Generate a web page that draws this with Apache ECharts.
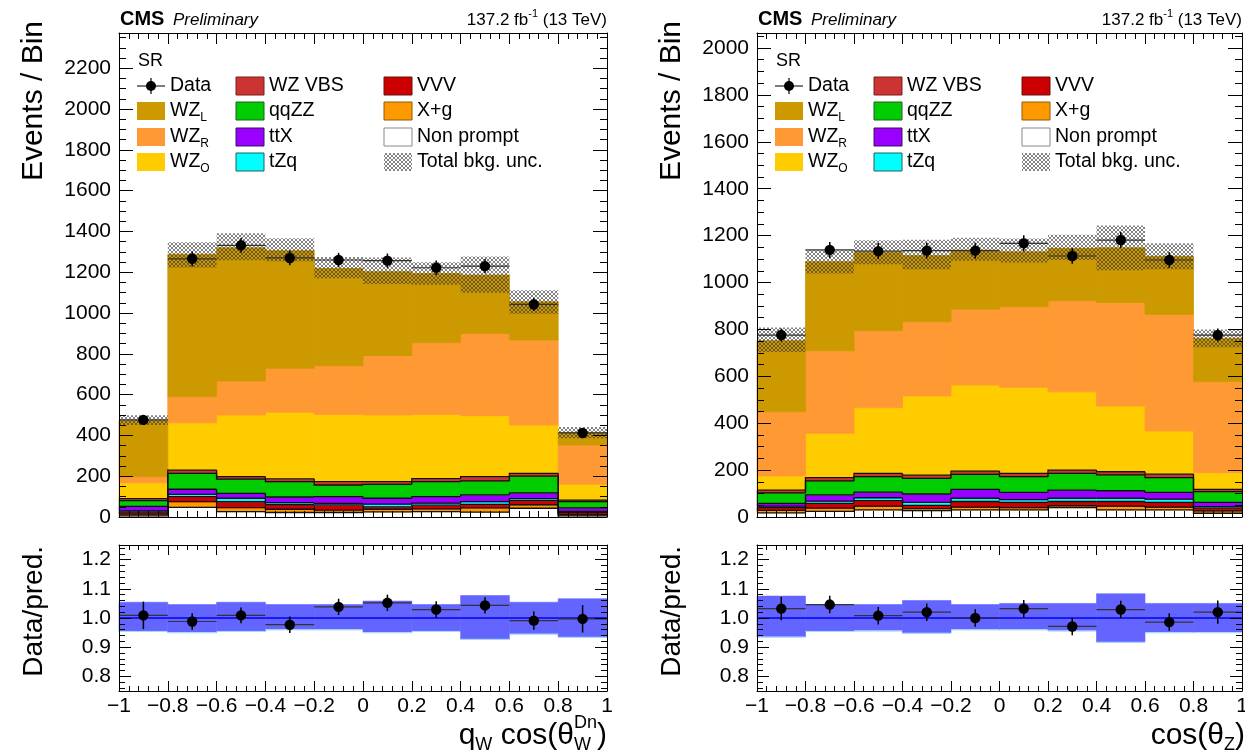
<!DOCTYPE html>
<html>
<head>
<meta charset="utf-8">
<title>CMS Preliminary - WZ polarization</title>
<script src="https://cdn.jsdelivr.net/npm/echarts@6.0.0/dist/echarts.min.js"></script>
<style>
html,body{margin:0;padding:0;background:#ffffff;}
#chart{width:1245px;height:756px;}
</style>
</head>
<body>
<div id="chart"></div>
<script>
// ===================== DATA =====================
const binEdges = [-1, -0.8, -0.6, -0.4, -0.2, 0, 0.2, 0.4, 0.6, 0.8, 1];
const xTickValues = [-1, -0.8, -0.6, -0.4, -0.2, 0, 0.2, 0.4, 0.6, 0.8, 1];
const ratioTickValues = [0.8, 0.9, 1.0, 1.1, 1.2];
const processNames = ['Non prompt', 'X+g', 'VVV', 'tZq', 'ttX', 'qqZZ', 'WZ VBS', 'WZ_O', 'WZ_R', 'WZ_L'];
const processColors = ['#ffffff', '#ff9900', '#cc0000', '#00ffff', '#9900ff', '#00cc00', '#cc3333', '#ffcc00', '#ff9933', '#cc9900'];

// Left panel: q_W cos(theta_W^Dn)
const L_nonPrompt = [6, 47, 26, 22, 22, 25, 26, 24, 43, 6];
const L_xg        = [8, 28, 20, 16, 12, 13, 14, 21, 17, 6];
const L_vvv       = [10, 25, 29, 22, 25, 12, 18, 17, 20, 10];
const L_tzq       = [6, 11, 17, 10, 8, 13, 10, 13, 10, 6];
const L_ttx       = [22, 25, 24, 28, 33, 29, 32, 33, 28, 17];
const L_qqzz      = [28, 78, 70, 75, 57, 68, 73, 69, 82, 30];
const L_wzvbs     = [10, 16, 12, 14, 16, 13, 15, 21, 14, 8];
const L_wzO       = [78, 232, 302, 326, 330, 327, 315, 299, 237, 77];
const L_wzR       = [30, 128, 167, 216, 239, 292, 352, 403, 417, 193];
const L_wzL       = [275, 698, 653, 577, 477, 411, 339, 286, 187, 61];
const L_data      = [476, 1266, 1332, 1270, 1260, 1257, 1222, 1230, 1042, 412];
const L_dataErr   = [22, 36, 36, 36, 35, 35, 35, 35, 32, 20];
const L_uncUp     = [0.054, 0.046, 0.054, 0.046, 0.046, 0.058, 0.046, 0.077, 0.054, 0.066];
const L_uncDn     = [0.046, 0.050, 0.046, 0.040, 0.040, 0.050, 0.046, 0.073, 0.055, 0.066];
const L_ratio     = [1.009, 0.988, 1.009, 0.977, 1.038, 1.052, 1.029, 1.043, 0.991, 0.997];
const L_ratioErr  = [0.047, 0.028, 0.027, 0.028, 0.028, 0.028, 0.028, 0.028, 0.031, 0.047];
const L_yMax = 2373;

// Right panel: cos(theta_Z)
const R_nonPrompt = [18, 24, 30, 27, 30, 30, 40, 30, 30, 16];
const R_xg        = [10, 14, 16, 9, 12, 10, 8, 16, 12, 10];
const R_vvv       = [12, 20, 24, 14, 24, 22, 18, 20, 20, 12];
const R_tzq       = [6, 10, 12, 12, 14, 12, 14, 14, 14, 6];
const R_ttx       = [12, 26, 24, 36, 38, 31, 35, 32, 29, 18];
const R_qqzz      = [45, 60, 66, 67, 64, 67, 71, 68, 63, 46];
const R_wzvbs     = [12, 14, 14, 14, 14, 14, 14, 13, 15, 10];
const R_wzO       = [60, 189, 280, 337, 367, 367, 334, 280, 184, 71];
const R_wzR       = [274, 352, 329, 317, 323, 344, 388, 442, 497, 388];
const R_wzL       = [303, 380, 333, 282, 252, 234, 224, 233, 248, 185];
const R_data      = [776, 1139, 1134, 1136, 1136, 1167, 1113, 1181, 1096, 776];
const R_dataErr   = [28, 34, 34, 34, 34, 34, 33, 34, 33, 28];
const R_uncUp     = [0.075, 0.046, 0.046, 0.060, 0.046, 0.050, 0.050, 0.083, 0.050, 0.050];
const R_uncDn     = [0.065, 0.046, 0.044, 0.052, 0.040, 0.040, 0.044, 0.083, 0.050, 0.050];
const R_ratio     = [1.032, 1.046, 1.008, 1.020, 1.000, 1.032, 0.971, 1.029, 0.986, 1.020];
const R_ratioErr  = [0.040, 0.030, 0.030, 0.030, 0.030, 0.030, 0.030, 0.030, 0.030, 0.040];
const R_yMax = 2064;

// ===================== STYLE / LAYOUT =====================
const FONT = '"Liberation Sans", Arial, Helvetica, sans-serif';
const GRIDS = [
  { left: 119, top: 33, width: 488, height: 484 },  // left main
  { left: 119, top: 545, width: 488, height: 146 }, // left ratio
  { left: 757, top: 33, width: 485, height: 484 },  // right main
  { left: 757, top: 545, width: 485, height: 146 }  // right ratio
];

// hatch pattern for total background uncertainty
const hatch = document.createElement('canvas');
hatch.width = 4; hatch.height = 4;
(function () {
  const g = hatch.getContext('2d');
  g.fillStyle = 'rgba(55,55,55,0.62)';
  [[0,0],[1,1],[2,2],[3,3],[3,0],[2,1],[1,2],[0,3]].forEach(function (p) { g.fillRect(p[0], p[1], 1, 1); });
})();
const hatchFill = { type: 'pattern', image: hatch, repeat: 'repeat' };

// ===================== AXES =====================
const xAxis = [];
const yAxis = [];
function fmtX(v) {
  const r = Math.round(v * 10) / 10;
  if (r === 0) return '0';
  const a = Math.abs(r);
  const s = (Math.abs(a - Math.round(a)) < 1e-9) ? String(Math.round(a)) : a.toFixed(1);
  return (r < 0 ? '\u2212' : '') + s;
}
function addX(gi, showLabels, majorLen, minorLen) {
  ['bottom', 'top'].forEach(function (pos) {
    xAxis.push({
      gridIndex: gi, type: 'value', position: pos, min: -1, max: 1, interval: 0.2, z: 10,
      axisLine: { show: true, onZero: false, lineStyle: { color: '#000', width: 1 } },
      axisTick: { show: true, inside: true, length: majorLen, lineStyle: { color: '#000', width: 1 } },
      minorTick: { show: true, splitNumber: 5, length: minorLen, lineStyle: { color: '#000', width: 1 } },
      axisLabel: { show: showLabels && pos === 'bottom', margin: 5, fontSize: 21, color: '#000', fontFamily: FONT,
        formatter: fmtX, showMinLabel: true, showMaxLabel: true },
      splitLine: { show: false }, minorSplitLine: { show: false }
    });
  });
}
function addYMain(gi, ymax) {
  ['left', 'right'].forEach(function (pos) {
    yAxis.push({
      gridIndex: gi, type: 'value', position: pos, min: 0, max: ymax, interval: 200, z: 10,
      axisLine: { show: true, onZero: false, lineStyle: { color: '#000', width: 1 } },
      axisTick: { show: true, inside: true, length: 14, lineStyle: { color: '#000', width: 1 } },
      axisLabel: { show: pos === 'left', margin: 8, fontSize: 21, color: '#000', fontFamily: FONT,
        formatter: function (v) { return String(Math.round(v)); }, showMaxLabel: false },
      splitLine: { show: false }
    });
    yAxis.push({
      gridIndex: gi, type: 'value', position: pos, min: 0, max: ymax, interval: 50, z: 10,
      axisLine: { show: false, onZero: false },
      axisTick: { show: true, inside: true, length: 7, lineStyle: { color: '#000', width: 1 } },
      axisLabel: { show: false },
      splitLine: { show: false }
    });
  });
}
const ratioMinorTicks = [];
for (let k = 38; k <= 62; k++) { ratioMinorTicks.push(Math.round(k * 2) / 100); }
function addYRatio(gi) {
  ['left', 'right'].forEach(function (pos) {
    yAxis.push({
      gridIndex: gi, type: 'value', position: pos, min: 0.75, max: 1.25, z: 10,
      axisLine: { show: true, onZero: false, lineStyle: { color: '#000', width: 1 } },
      axisTick: { show: true, inside: true, length: 12, customValues: ratioTickValues, lineStyle: { color: '#000', width: 1 } },
      axisLabel: { show: pos === 'left', margin: 8, fontSize: 21, color: '#000', fontFamily: FONT,
        customValues: ratioTickValues, formatter: function (v) { return Number(v).toFixed(1); } },
      splitLine: { show: false }
    });
    yAxis.push({
      gridIndex: gi, type: 'value', position: pos, min: 0.75, max: 1.25, z: 10,
      axisLine: { show: false, onZero: false },
      axisTick: { show: true, inside: true, length: 6, customValues: ratioMinorTicks, lineStyle: { color: '#000', width: 1 } },
      axisLabel: { show: false },
      splitLine: { show: false }
    });
  });
}
addX(0, false, 11, 6); addYMain(0, L_yMax);
addX(1, true, 10, 5);  addYRatio(1);
addX(2, false, 11, 6); addYMain(2, R_yMax);
addX(3, true, 10, 5);  addYRatio(3);

// ===================== SERIES =====================
function rectRender(fill, strokeColor, lw) {
  return function (params, api) {
    const a = api.coord([api.value(0), api.value(3)]);
    const b = api.coord([api.value(1), api.value(2)]);
    return { type: 'rect', shape: { x: a[0], y: a[1], width: b[0] - a[0], height: b[1] - a[1] },
      style: { fill: fill, stroke: strokeColor || fill, lineWidth: lw == null ? 0.8 : lw } };
  };
}
function outlineRender(params, api) {
  const lo = api.value(0), hi = api.value(1), top = api.value(2), prev = api.value(3);
  const p0 = api.coord([lo, prev]), p1 = api.coord([lo, top]), p2 = api.coord([hi, top]);
  return { type: 'polyline', shape: { points: [p0, p1, p2] }, style: { stroke: '#111', lineWidth: 1.3, fill: null } };
}
function pointRender(params, api) {
  const lo = api.value(0), hi = api.value(1), v = api.value(2), e = api.value(3);
  const c = (lo + hi) / 2;
  const pL = api.coord([lo, v]), pR = api.coord([hi, v]);
  const pT = api.coord([c, v + e]), pB = api.coord([c, v - e]), pC = api.coord([c, v]);
  return { type: 'group', children: [
    { type: 'line', shape: { x1: pL[0], y1: pL[1], x2: pR[0], y2: pR[1] }, style: { stroke: '#333', lineWidth: 1.2 } },
    { type: 'line', shape: { x1: pT[0], y1: pT[1], x2: pB[0], y2: pB[1] }, style: { stroke: '#000', lineWidth: 1.5 } },
    { type: 'circle', shape: { cx: pC[0], cy: pC[1], r: 5.2 }, style: { fill: '#000' } }
  ] };
}
function bandRender(params, api) {
  const a = api.coord([api.value(0), api.value(3)]);
  const b = api.coord([api.value(1), api.value(2)]);
  return { type: 'group', children: [
    { type: 'rect', shape: { x: a[0], y: a[1], width: b[0] - a[0], height: b[1] - a[1] }, style: { fill: '#6464ff', stroke: '#6464ff', lineWidth: 0.6 } },
    { type: 'line', shape: { x1: a[0], y1: b[1], x2: b[0], y2: b[1] }, style: { stroke: '#a8e4ff', lineWidth: 1 } }
  ] };
}
function unityRender(params, api) {
  const a = api.coord([api.value(0), api.value(2)]);
  const b = api.coord([api.value(1), api.value(2)]);
  return { type: 'line', shape: { x1: a[0], y1: a[1], x2: b[0], y2: b[1] }, style: { stroke: '#0000ee', lineWidth: 1.6 } };
}

const series = [];
function buildPanel(gMain, gRat, comps, data, dataErr, uncUp, uncDn, ratio, ratioErr) {
  const xM = 2 * gMain, yM = 4 * gMain, xR = 2 * gRat, yR = 4 * gRat;
  const cum = binEdges.slice(0, -1).map(function () { return 0; });
  const outlines = [];
  comps.forEach(function (vals, ci) {
    const items = vals.map(function (v, b) { return [binEdges[b], binEdges[b + 1], cum[b], cum[b] + v]; });
    vals.forEach(function (v, b) { cum[b] += v; });
    series.push({ type: 'custom', name: processNames[ci], xAxisIndex: xM, yAxisIndex: yM, data: items,
      encode: { x: [0, 1], y: [2, 3] }, z: 2, silent: true,
      renderItem: rectRender(processColors[ci]) });
    if (ci < 7) {
      const tops = cum.slice();
      outlines.push(tops.map(function (t, b) { return [binEdges[b], binEdges[b + 1], t, b > 0 ? tops[b - 1] : t]; }));
    }
  });
  outlines.forEach(function (items) {
    series.push({ type: 'custom', xAxisIndex: xM, yAxisIndex: yM, data: items, encode: { x: [0, 1], y: [2, 3] },
      z: 3, silent: true, renderItem: outlineRender });
  });
  // total background uncertainty (hatched)
  const unc = cum.map(function (t, b) { return [binEdges[b], binEdges[b + 1], t * (1 - uncDn[b]), t * (1 + uncUp[b])]; });
  series.push({ type: 'custom', name: 'Total bkg. unc.', xAxisIndex: xM, yAxisIndex: yM, data: unc,
    encode: { x: [0, 1], y: [2, 3] }, z: 4, silent: true, renderItem: rectRender(hatchFill, 'rgba(0,0,0,0)', 0) });
  // data
  series.push({ type: 'custom', name: 'Data', xAxisIndex: xM, yAxisIndex: yM,
    data: data.map(function (v, b) { return [binEdges[b], binEdges[b + 1], v, dataErr[b]]; }),
    encode: { x: [0, 1], y: 2 }, z: 6, silent: true, renderItem: pointRender });
  // ratio band
  series.push({ type: 'custom', xAxisIndex: xR, yAxisIndex: yR,
    data: uncUp.map(function (u, b) { return [binEdges[b], binEdges[b + 1], 1 - uncDn[b], 1 + u]; }),
    encode: { x: [0, 1], y: [2, 3] }, z: 2, silent: true, renderItem: bandRender });
  series.push({ type: 'custom', xAxisIndex: xR, yAxisIndex: yR,
    data: [[binEdges[0], binEdges[binEdges.length - 1], 1]], encode: { x: [0, 1], y: 2 },
    z: 3, silent: true, renderItem: unityRender });
  series.push({ type: 'custom', name: 'Data/pred.', xAxisIndex: xR, yAxisIndex: yR,
    data: ratio.map(function (r, b) { return [binEdges[b], binEdges[b + 1], r, ratioErr[b]]; }),
    encode: { x: [0, 1], y: 2 }, z: 6, silent: true, renderItem: pointRender });
}
buildPanel(0, 1, [L_nonPrompt, L_xg, L_vvv, L_tzq, L_ttx, L_qqzz, L_wzvbs, L_wzO, L_wzR, L_wzL],
  L_data, L_dataErr, L_uncUp, L_uncDn, L_ratio, L_ratioErr);
buildPanel(2, 3, [R_nonPrompt, R_xg, R_vvv, R_tzq, R_ttx, R_qqzz, R_wzvbs, R_wzO, R_wzR, R_wzL],
  R_data, R_dataErr, R_uncUp, R_uncDn, R_ratio, R_ratioErr);

// ===================== TEXT / LEGEND (graphic) =====================
const mctx = document.createElement('canvas').getContext('2d');
function tw(t, size, weight, style) {
  mctx.font = (style || 'normal') + ' ' + (weight || 'normal') + ' ' + size + 'px ' + FONT;
  return mctx.measureText(t).width;
}
function runs(x, y, parts, align) {
  const els = [];
  const widths = parts.map(function (p) {
    return p.stack ? Math.max.apply(null, p.stack.map(function (s) { return tw(s.t, s.size); }))
                   : tw(p.t, p.size, p.weight, p.style);
  });
  const total = widths.reduce(function (a, b) { return a + b; }, 0);
  let cx = align === 'right' ? x - total : x;
  parts.forEach(function (p, i) {
    (p.stack || [p]).forEach(function (s) {
      els.push({ type: 'text', x: cx, y: y + (s.dy || 0), z: 20, silent: true,
        style: { text: s.t, fontSize: s.size, fontFamily: FONT, fontWeight: s.weight || 'normal',
          fontStyle: s.style || 'normal', fill: '#000', align: 'left', verticalAlign: 'middle' } });
    });
    cx += widths[i];
  });
  return els;
}
const graphic = [];
const LEG = 19.5, SUB = 12;
function panelText(g, xTitleParts, xTitleRight) {
  const FL = g.left, FR = g.left + g.width;
  graphic.push.apply(graphic, runs(FL + 1, 19.5, [{ t: 'CMS', size: 20, weight: 'bold' }], 'left'));
  graphic.push.apply(graphic, runs(FL + 54, 20.5, [{ t: 'Preliminary', size: 17, style: 'italic' }], 'left'));
  graphic.push.apply(graphic, runs(FR, 20.5, [{ t: '137.2 fb', size: 17 }, { t: '-1', size: 11, dy: -7 }, { t: ' (13 TeV)', size: 17 }], 'right'));
  graphic.push.apply(graphic, runs(FL + 19, 61, [{ t: 'SR', size: 18 }], 'left'));
  // axis titles
  graphic.push({ type: 'text', x: FL - 85, y: 21, rotation: Math.PI / 2, z: 20, silent: true,
    style: { text: 'Events / Bin', fontSize: 30, fontFamily: FONT, fill: '#000', align: 'right', verticalAlign: 'middle' } });
  graphic.push({ type: 'text', x: FL - 85, y: 546, rotation: Math.PI / 2, z: 20, silent: true,
    style: { text: 'Data/pred.', fontSize: 28, fontFamily: FONT, fill: '#000', align: 'right', verticalAlign: 'middle' } });
  graphic.push.apply(graphic, runs(xTitleRight, 736, xTitleParts, 'right'));
  // legend
  const rows = [86, 111, 137, 162];
  const boxX = [FL + 18, FL + 117, FL + 265];
  const txtX = [FL + 51, FL + 150, FL + 298];
  const entries = [
    { c: 0, r: 0, kind: 'data', parts: [{ t: 'Data', size: LEG }] },
    { c: 0, r: 1, fill: processColors[9], parts: [{ t: 'WZ', size: LEG }, { t: 'L', size: SUB, dy: 7 }] },
    { c: 0, r: 2, fill: processColors[8], parts: [{ t: 'WZ', size: LEG }, { t: 'R', size: SUB, dy: 7 }] },
    { c: 0, r: 3, fill: processColors[7], parts: [{ t: 'WZ', size: LEG }, { t: 'O', size: SUB, dy: 7 }] },
    { c: 1, r: 0, fill: processColors[6], border: '#7a1f1f', parts: [{ t: 'WZ VBS', size: LEG }] },
    { c: 1, r: 1, fill: processColors[5], border: '#1f5f1f', parts: [{ t: 'qqZZ', size: LEG }] },
    { c: 1, r: 2, fill: processColors[4], border: '#3a1060', parts: [{ t: 'ttX', size: LEG }] },
    { c: 1, r: 3, fill: processColors[3], border: '#205f60', parts: [{ t: 'tZq', size: LEG }] },
    { c: 2, r: 0, fill: processColors[2], border: '#6a1010', parts: [{ t: 'VVV', size: LEG }] },
    { c: 2, r: 1, fill: processColors[1], border: '#8a5a10', parts: [{ t: 'X+g', size: LEG }] },
    { c: 2, r: 2, fill: processColors[0], border: '#888888', parts: [{ t: 'Non prompt', size: LEG }] },
    { c: 2, r: 3, fill: hatchFill, border: null, parts: [{ t: 'Total bkg. unc.', size: LEG }] }
  ];
  entries.forEach(function (e) {
    const bx = boxX[e.c], cy = rows[e.r];
    if (e.kind === 'data') {
      graphic.push({ type: 'line', z: 20, silent: true, shape: { x1: bx, y1: cy, x2: bx + 28, y2: cy }, style: { stroke: '#222', lineWidth: 1.2 } });
      graphic.push({ type: 'line', z: 20, silent: true, shape: { x1: bx + 14, y1: cy - 8, x2: bx + 14, y2: cy + 8 }, style: { stroke: '#000', lineWidth: 1.2 } });
      graphic.push({ type: 'circle', z: 21, silent: true, shape: { cx: bx + 14, cy: cy, r: 5 }, style: { fill: '#000' } });
    } else {
      graphic.push({ type: 'rect', z: 20, silent: true, shape: { x: bx, y: cy - 9, width: 28, height: 18 },
        style: { fill: e.fill, stroke: e.border || 'rgba(0,0,0,0)', lineWidth: e.border ? 1 : 0 } });
    }
    graphic.push.apply(graphic, runs(txtX[e.c], cy, e.parts, 'left'));
  });
}
panelText(GRIDS[0], [
  { t: 'q', size: 30 }, { t: 'W', size: 18, dy: 9 }, { t: ' cos(\u03b8', size: 30 },
  { stack: [{ t: 'Dn', size: 18, dy: -13 }, { t: 'W', size: 18, dy: 9 }] }, { t: ')', size: 30 }
], GRIDS[0].left + GRIDS[0].width);
panelText(GRIDS[2], [
  { t: 'cos(\u03b8', size: 30 }, { t: 'Z', size: 18, dy: 9 }, { t: ')', size: 30 }
], 1245);

// ===================== CHART =====================
const chart = echarts.init(document.getElementById('chart'), null, { renderer: 'canvas', width: 1245, height: 756 });
chart.setOption({
  backgroundColor: '#ffffff',
  animation: false,
  grid: GRIDS.map(function (g) {
    return { left: g.left, top: g.top, width: g.width, height: g.height, containLabel: false, outerBoundsMode: 'none', show: false };
  }),
  xAxis: xAxis,
  yAxis: yAxis,
  series: series,
  graphic: graphic
});
</script>
</body>
</html>
